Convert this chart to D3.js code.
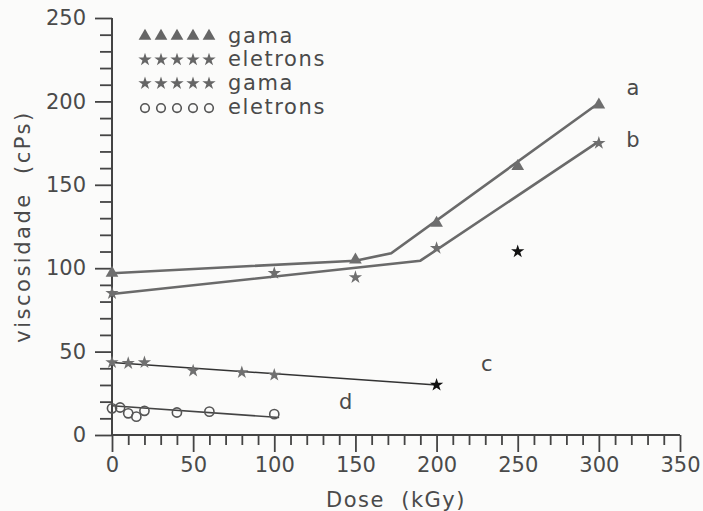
<!DOCTYPE html>
<html>
<head>
<meta charset="utf-8">
<script src="https://cdn.jsdelivr.net/npm/d3@7"></script>
<style>
  body { margin: 0; background: #fbfbfa; }
  text { font-family: "DejaVu Sans", sans-serif; fill: #4a4a4a; }
</style>
</head>
<body>
<script>
// measured points
var doseA = [0, 150, 200, 250, 300],
    viscA = [97, 105, 127, 161, 198];
var doseB = [0, 100, 150, 200, 300],
    viscB = [85, 97, 94.5, 112, 175];
var doseC = [0, 10, 20, 50, 80, 100],
    viscC = [43.5, 43, 43.5, 38.5, 37.5, 36];
var doseD = [0, 5, 10, 15, 20, 40, 60, 100],
    viscD = [16, 16.5, 13, 11, 14.5, 13.5, 14, 12.5];
var doseBlack = [250, 200],
    viscBlack = [110, 30];

// drawn curves
var lineDoseA = [0, 150, 172, 300], lineViscA = [97, 104.5, 109, 199];
var lineDoseB = [0, 190, 300], lineViscB = [84.5, 104.5, 176];
var lineDoseC = [0, 200], lineViscC = [43.5, 30];
var lineDoseD = [0, 103], lineViscD = [17.5, 10.5];

var curveLabels = ["a", "b", "c", "d"],
    labelDose = [321, 321, 231, 144],
    labelVisc = [208, 177, 43, 20];

var legendNames = ["gama", "eletrons", "gama", "eletrons"];

var width = 703, height = 511;
var margin = {left: 112, right: 23, top: 18, bottom: 76};

var svg = d3.select("body").append("svg")
    .attr("width", width)
    .attr("height", height);

var x = d3.scaleLinear().domain([0, 350]).range([margin.left, width - margin.right]);
var y = d3.scaleLinear().domain([0, 250]).range([height - margin.bottom, margin.top]);

function zip(a, b) { return a.map(function(d, i){ return [d, b[i]]; }); }

// axes
var yAxis = d3.axisLeft(y)
  .tickValues(d3.range(0, 251, 10))
  .tickSize(17).tickPadding(9)
  .tickFormat(function(d){ return d % 50 === 0 ? d : ""; });
var gy = svg.append("g").attr("transform", "translate(" + margin.left + ",0)").call(yAxis);

var xAxis = d3.axisBottom(x)
  .tickValues(d3.range(0, 351, 10))
  .tickSize(17).tickPadding(5)
  .tickFormat(function(d){ return d % 50 === 0 ? d : ""; });
var gx = svg.append("g").attr("transform", "translate(0," + y(0) + ")").call(xAxis);

[gx, gy].forEach(function(g){
  g.select(".domain").attr("stroke", "#444").attr("stroke-width", 2);
  g.selectAll(".tick line").attr("stroke", "#444").attr("stroke-width", 1.8);
  g.selectAll(".tick text").style("font-size", "21px").attr("fill", "#4a4a4a");
});
gy.select(".domain").attr("d", "M0," + y(250) + "V" + y(0));
gx.select(".domain").attr("d", "M" + x(0) + ",0H" + x(350));
gy.selectAll(".tick line").filter(function(d){ return d % 50 !== 0; }).attr("x2", -12);
gx.selectAll(".tick line").filter(function(d){ return d % 50 !== 0; }).attr("y2", 10);

svg.append("text")
  .attr("x", (x(0) + x(350)) / 2).attr("y", 507)
  .attr("text-anchor", "middle")
  .style("font-size", "21px").style("letter-spacing", "1.5px")
  .text("Dose\u00a0 (kGy)");

svg.append("text")
  .attr("transform", "translate(30," + ((y(0) + y(250)) / 2) + ") rotate(-90)")
  .attr("text-anchor", "middle")
  .style("font-size", "21px").style("letter-spacing", "2.5px")
  .text("viscosidade\u00a0 (cPs)");

// curves
var line = d3.line().x(function(d){ return x(d[0]); }).y(function(d){ return y(d[1]); });
[[lineDoseA, lineViscA, 2.6, "#6a6a6a"], [lineDoseB, lineViscB, 2.6, "#6a6a6a"],
 [lineDoseC, lineViscC, 1.6, "#333"], [lineDoseD, lineViscD, 1.6, "#444"]].forEach(function(c){
  svg.append("path").datum(zip(c[0], c[1]))
    .attr("fill", "none").attr("stroke", c[3]).attr("stroke-width", c[2])
    .attr("d", line);
});

// markers
var tri = d3.symbol().type(d3.symbolTriangle).size(70);
var star = d3.symbol().type(d3.symbolStar).size(55);

svg.selectAll(".ptA").data(zip(doseA, viscA)).enter().append("path")
  .attr("transform", function(d){ return "translate(" + x(d[0]) + "," + y(d[1]) + ")"; })
  .attr("d", tri).attr("fill", "#6e6e6e");
svg.selectAll(".ptB").data(zip(doseB, viscB)).enter().append("path")
  .attr("transform", function(d){ return "translate(" + x(d[0]) + "," + y(d[1]) + ")"; })
  .attr("d", star).attr("fill", "#6e6e6e");
svg.selectAll(".ptC").data(zip(doseC, viscC)).enter().append("path")
  .attr("transform", function(d){ return "translate(" + x(d[0]) + "," + y(d[1]) + ")"; })
  .attr("d", star).attr("fill", "#707070");
svg.selectAll(".ptK").data(zip(doseBlack, viscBlack)).enter().append("path")
  .attr("transform", function(d){ return "translate(" + x(d[0]) + "," + y(d[1]) + ")"; })
  .attr("d", star).attr("fill", "#111");
svg.selectAll(".ptD").data(zip(doseD, viscD)).enter().append("circle")
  .attr("cx", function(d){ return x(d[0]); })
  .attr("cy", function(d){ return y(d[1]); })
  .attr("r", 4.6)
  .attr("fill", "none").attr("stroke", "#555").attr("stroke-width", 1.6);

// curve letters
svg.selectAll(".lbl").data(curveLabels).enter().append("text")
  .attr("x", function(d, i){ return x(labelDose[i]); })
  .attr("y", function(d, i){ return y(labelVisc[i]); })
  .attr("dy", "0.35em")
  .attr("text-anchor", "middle")
  .style("font-size", "21px")
  .text(function(d){ return d; });

// legend
var leg = svg.append("g").attr("transform", "translate(145,36)");
var rows = leg.selectAll("g").data(legendNames).enter().append("g")
  .attr("transform", function(d, i){ return "translate(0," + (i * 23.7) + ")"; });
rows.each(function(d, i){
  var g = d3.select(this);
  d3.range(5).forEach(function(k){
    if (i === 3) {
      g.append("circle").attr("cx", k * 16).attr("cy", 1).attr("r", 4.3)
        .attr("fill", "none").attr("stroke", "#555").attr("stroke-width", 1.6);
    } else {
      g.append("path").attr("transform", "translate(" + (k * 16) + ",0)")
        .attr("d", i === 0 ? tri : star).attr("fill", "#666");
    }
  });
  g.append("text").attr("x", 83).attr("dy", "0.32em")
    .style("font-size", "21px").style("letter-spacing", "1.6px")
    .text(d);
});
</script>
</body>
</html>
